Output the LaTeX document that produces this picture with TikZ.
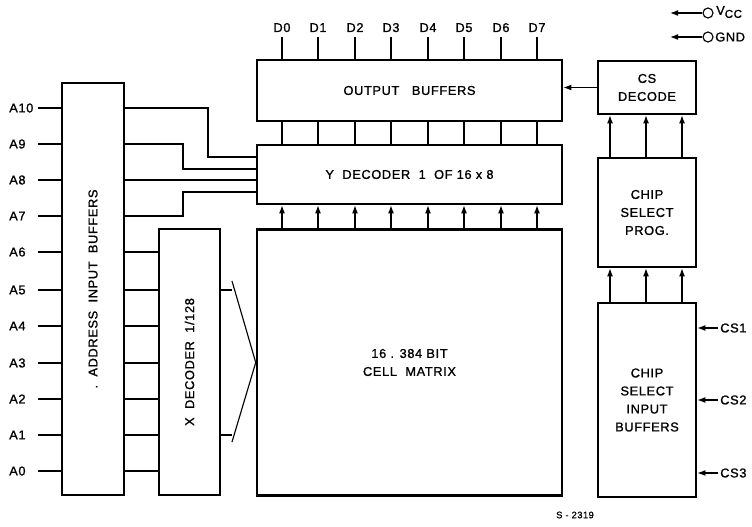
\documentclass[tikz,border=0pt]{standalone}
\usepackage{fontspec}
\setmainfont{Liberation Sans}[LetterSpace=5,FakeBold=1.2]
\usetikzlibrary{arrows.meta}
\begin{document}
\begin{tikzpicture}[x=0.75pt,y=-0.75pt,
  box/.style={draw, line width=1.9pt, inner sep=0pt, align=center, font=\fontsize{9.6}{13.5}\selectfont},
  wire/.style={line width=0.85pt},
  arr/.style={wire,-{Latex[length=6pt,width=4.4pt]}},
  lab/.style={inner sep=1.5pt, font=\fontsize{9.6}{10}\selectfont}]
\useasboundingbox (0,0) rectangle (752,527);

% blocks
\node[box, minimum width=62*0.75pt, minimum height=412*0.75pt] (addr) at (93,289)
  {\rotatebox{90}{.\ \ ADDRESS\ \ INPUT\ \ BUFFERS}};
\node[box, minimum width=61*0.75pt, minimum height=266*0.75pt] (xdec) at (189.5,362)
  {\rotatebox{90}{X\ \ DECODER\ \ 1/128}};
\node[box, minimum width=305*0.75pt, minimum height=266*0.75pt] (cell) at (409.5,362.5)
  {16 . 384 BIT\\CELL\ \ MATRIX};
\node[box, minimum width=305*0.75pt, minimum height=59*0.75pt] (ydec) at (409.5,174.5)
  {Y\ \ DECODER\ \ 1\ \ OF 16 x 8};
\node[box, minimum width=305*0.75pt, minimum height=61*0.75pt] (outb) at (409.5,90.5)
  {OUTPUT\ \ \ BUFFERS};
\node[box, minimum width=98*0.75pt, minimum height=53*0.75pt] (csdec) at (647,87.5)
  {CS\\DECODE};
\node[box, minimum width=98*0.75pt, minimum height=109*0.75pt] (csprog) at (647,212.5)
  {CHIP\\SELECT\\PROG.};
\node[box, minimum width=98*0.75pt, minimum height=194*0.75pt] (csin) at (647,400)
  {CHIP\\SELECT\\INPUT\\BUFFERS};

% address inputs
\foreach \n/\y in {10/108,9/144,8/180,7/216,6/252,5/290,4/326,3/363,2/399,1/435,0/471}{
  \node[lab, anchor=west] (a\n) at (7,\y) {A\n};
  \coordinate (ai\n) at (38,\y);
  \draw[wire] (ai\n) -- (addr.west |- ai\n);
}
\foreach \n in {6,5,4,3,2,1,0}{
  \draw[wire] (addr.east |- ai\n) -- (xdec.west |- ai\n);
}

% Y decoder address wiring
\coordinate (yi1) at (257,157);
\coordinate (yi2) at (257,169);
\coordinate (yi3) at (257,180);
\coordinate (yi4) at (257,192);
\draw[wire] (addr.east |- ai10) -| (208,157) -- (yi1);
\draw[wire] (addr.east |- ai9) -| (183,169) -- (yi2);
\draw[wire] (addr.east |- ai8) -- (yi3);
\draw[wire] (addr.east |- ai7) -| (183,192) -- (yi4);

% X decoder to cell matrix
\coordinate (xt) at (232,290);
\coordinate (xb) at (232,435);
\draw[wire] (xdec.east |- xt) -- (xt);
\draw[wire] (xdec.east |- xb) -- (xb);
\draw[wire] (232,281) -- (cell.west) -- (232,442);

% data lines
\foreach \i/\x in {0/282,1/318,2/355,3/391,4/428,5/464,6/501,7/537}{
  \node[lab, anchor=base] (d\i) at (\x,32) {D\i};
  \coordinate (c\i) at (\x,37);
  \draw[wire] (c\i) -- (outb.north -| c\i);
  \draw[wire] (outb.south -| c\i) -- (ydec.north -| c\i);
  \draw[arr] (cell.north -| c\i) -- (ydec.south -| c\i);
}

% chip select
\draw[arr] (csdec.west) -- (outb.east |- csdec.west);
\foreach \j/\x in {1/610,2/646,3/682}{
  \coordinate (e\j) at (\x,0);
  \draw[arr] (csprog.north -| e\j) -- (csdec.south -| e\j);
  \draw[arr] (csin.north -| e\j) -- (csprog.south -| e\j);
}
\foreach \j/\y in {1/328,2/400,3/473}{
  \node[lab, anchor=west] (cs\j) at (718,\y) {CS\j};
  \draw[arr] (cs\j.west) -- (csin.east |- cs\j);
}

% supply
\node[draw, circle, line width=0.85pt, minimum size=10*0.75pt, inner sep=0pt] (vcco) at (708,13) {};
\node[draw, circle, line width=0.85pt, minimum size=10*0.75pt, inner sep=0pt] (gndo) at (708,37) {};
\coordinate (vcca) at (670,13);
\coordinate (gnda) at (670,37);
\draw[arr] (vcco.west) -- (vcca);
\draw[arr] (gndo.west) -- (gnda);
\node[lab, anchor=west] (vcc) at (714,12) {V\raisebox{-0.45ex}{\fontsize{8.6}{9}\selectfont CC}};
\node[lab, anchor=west] (gnd) at (713,37) {GND};

\node[lab, font=\fontsize{7}{8}\selectfont] (ref) at (575,515) {S - 2319};
\end{tikzpicture}
\end{document}
